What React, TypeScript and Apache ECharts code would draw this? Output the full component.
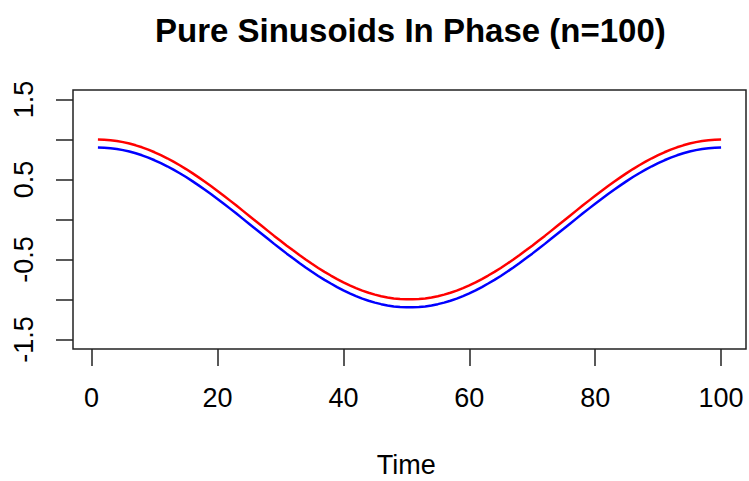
import React, { useEffect, useRef } from "react";
import * as echarts from "echarts";

const titleText = "Pure Sinusoids In Phase (n=100)";
const xAxisName = "Time";
const xTicks = [0, 20, 40, 60, 80, 100];
const yTicks = [-1.5, -1.0, -0.5, 0, 0.5, 1.0, 1.5];
const yTickLabels = ["-1.5", "", "-0.5", "", "0.5", "", "1.5"];

const time = [
  1, 2, 3, 4, 5, 6, 7, 8, 9, 10, 11, 12, 13, 14, 15, 16, 17, 18, 19, 20,
  21, 22, 23, 24, 25, 26, 27, 28, 29, 30, 31, 32, 33, 34, 35, 36, 37, 38, 39, 40,
  41, 42, 43, 44, 45, 46, 47, 48, 49, 50, 51, 52, 53, 54, 55, 56, 57, 58, 59, 60,
  61, 62, 63, 64, 65, 66, 67, 68, 69, 70, 71, 72, 73, 74, 75, 76, 77, 78, 79, 80,
  81, 82, 83, 84, 85, 86, 87, 88, 89, 90, 91, 92, 93, 94, 95, 96, 97, 98, 99, 100,
];

const redSeries = [
  1.0, 0.998, 0.992, 0.982, 0.968, 0.95, 0.928, 0.903, 0.874, 0.841,
  0.805, 0.766, 0.724, 0.679, 0.631, 0.58, 0.527, 0.472, 0.415, 0.357,
  0.297, 0.236, 0.174, 0.111, 0.048, -0.016, -0.079, -0.142, -0.205, -0.266,
  -0.327, -0.386, -0.444, -0.5, -0.554, -0.606, -0.655, -0.701, -0.745, -0.786,
  -0.824, -0.858, -0.889, -0.916, -0.94, -0.959, -0.975, -0.987, -0.995, -0.999,
  -0.999, -0.995, -0.987, -0.975, -0.959, -0.94, -0.916, -0.889, -0.858, -0.824,
  -0.786, -0.745, -0.701, -0.655, -0.606, -0.554, -0.5, -0.444, -0.386, -0.327,
  -0.266, -0.205, -0.142, -0.079, -0.016, 0.048, 0.111, 0.174, 0.236, 0.297,
  0.357, 0.415, 0.472, 0.527, 0.58, 0.631, 0.679, 0.724, 0.766, 0.805,
  0.841, 0.874, 0.903, 0.928, 0.95, 0.968, 0.982, 0.992, 0.998, 1.0,
];

const blueSeries = [
  0.9, 0.898, 0.892, 0.882, 0.868, 0.85, 0.828, 0.803, 0.774, 0.741,
  0.705, 0.666, 0.624, 0.579, 0.531, 0.48, 0.427, 0.372, 0.315, 0.257,
  0.197, 0.136, 0.074, 0.011, -0.052, -0.116, -0.179, -0.242, -0.305, -0.366,
  -0.427, -0.486, -0.544, -0.6, -0.654, -0.706, -0.755, -0.801, -0.845, -0.886,
  -0.924, -0.958, -0.989, -1.016, -1.04, -1.059, -1.075, -1.087, -1.095, -1.099,
  -1.099, -1.095, -1.087, -1.075, -1.059, -1.04, -1.016, -0.989, -0.958, -0.924,
  -0.886, -0.845, -0.801, -0.755, -0.706, -0.654, -0.6, -0.544, -0.486, -0.427,
  -0.366, -0.305, -0.242, -0.179, -0.116, -0.052, 0.011, 0.074, 0.136, 0.197,
  0.257, 0.315, 0.372, 0.427, 0.48, 0.531, 0.579, 0.624, 0.666, 0.705,
  0.741, 0.774, 0.803, 0.828, 0.85, 0.868, 0.882, 0.892, 0.898, 0.9,
];

export default function App() {
  const ref = useRef<HTMLDivElement>(null);
  useEffect(() => {
    if (!ref.current) return;
    const chart = echarts.init(ref.current, null, { renderer: "svg" });
    const font = "'Liberation Sans', Arial, Helvetica, sans-serif";

    // Plot box geometry (R-style 4% extension)
    const boxL = 73, boxT = 90, boxR = 746, boxB = 349;
    const xMin = 1 - 0.04 * 99, xMax = 100 + 0.04 * 99;
    const yMin = -1.5 - 0.04 * 3, yMax = 1.5 + 0.04 * 3;
    const pxX = (boxR - boxL) / (xMax - xMin);
    const pxY = (boxB - boxT) / (yMax - yMin);
    const x0 = boxL + (xTicks[0] - xMin) * pxX;
    const x1 = boxL + (xTicks[xTicks.length - 1] - xMin) * pxX;
    const yTop = boxT + (yMax - yTicks[yTicks.length - 1]) * pxY;
    const yBot = boxT + (yMax - yTicks[0]) * pxY;

    chart.setOption({
      animation: false,
      backgroundColor: "#ffffff",
      title: {
        text: titleText,
        left: 150,
        top: 9,
        textStyle: { fontFamily: font, fontSize: 33, fontWeight: "bold", color: "#000" },
      },
      grid: [
        {
          left: boxL,
          top: boxT,
          width: boxR - boxL,
          height: boxB - boxT,
          show: true,
          borderColor: "#222",
          borderWidth: 1.5,
          backgroundColor: "transparent",
        },
        {
          left: x0,
          top: yTop,
          width: x1 - x0,
          height: yBot - yTop,
          show: false,
        },
      ],
      xAxis: [
        {
          type: "value",
          gridIndex: 0,
          min: xMin,
          max: xMax,
          show: false,
        },
        {
          type: "value",
          gridIndex: 1,
          min: xTicks[0],
          max: xTicks[xTicks.length - 1],
          interval: 20,
          position: "bottom",
          offset: boxB - yBot,
          axisLine: { show: false, onZero: false },
          axisTick: { show: true, inside: false, length: 17, lineStyle: { color: "#222", width: 1.5 } },
          splitLine: { show: false },
          axisLabel: { margin: 35, fontFamily: font, fontSize: 27, color: "#000" },
          name: xAxisName,
          nameLocation: "middle",
          nameGap: 102,
          nameTextStyle: { fontFamily: font, fontSize: 27, color: "#000" },
        },
      ],
      yAxis: [
        {
          type: "value",
          gridIndex: 0,
          min: yMin,
          max: yMax,
          show: false,
        },
        {
          type: "value",
          gridIndex: 1,
          min: yTicks[0],
          max: yTicks[yTicks.length - 1],
          interval: 0.5,
          position: "left",
          offset: x0 - boxL,
          axisLine: { show: false, onZero: false },
          axisTick: { show: true, inside: false, length: 17, lineStyle: { color: "#222", width: 1.5 } },
          splitLine: { show: false },
          axisLabel: {
            margin: 36,
            rotate: 90,
            fontFamily: font,
            fontSize: 27,
            color: "#000",
            formatter: (v: number) => {
              const i = yTicks.findIndex((t) => Math.abs(t - v) < 1e-6);
              return i >= 0 ? yTickLabels[i] : "";
            },
          },
        },
      ],
      series: [
        {
          type: "line",
          xAxisIndex: 0,
          yAxisIndex: 0,
          data: time.map((t, i) => [t, redSeries[i]]),
          showSymbol: false,
          lineStyle: { color: "#ff0000", width: 2.5 },
          z: 3,
        },
        {
          type: "line",
          xAxisIndex: 0,
          yAxisIndex: 0,
          data: time.map((t, i) => [t, blueSeries[i]]),
          showSymbol: false,
          lineStyle: { color: "#0000ff", width: 2.5 },
          z: 2,
        },
      ],
    });
    return () => chart.dispose();
  }, []);
  return (
    <div
      ref={ref}
      style={{ position: "fixed", left: 0, top: 0, width: 749, height: 481, background: "#fff" }}
    />
  );
}
